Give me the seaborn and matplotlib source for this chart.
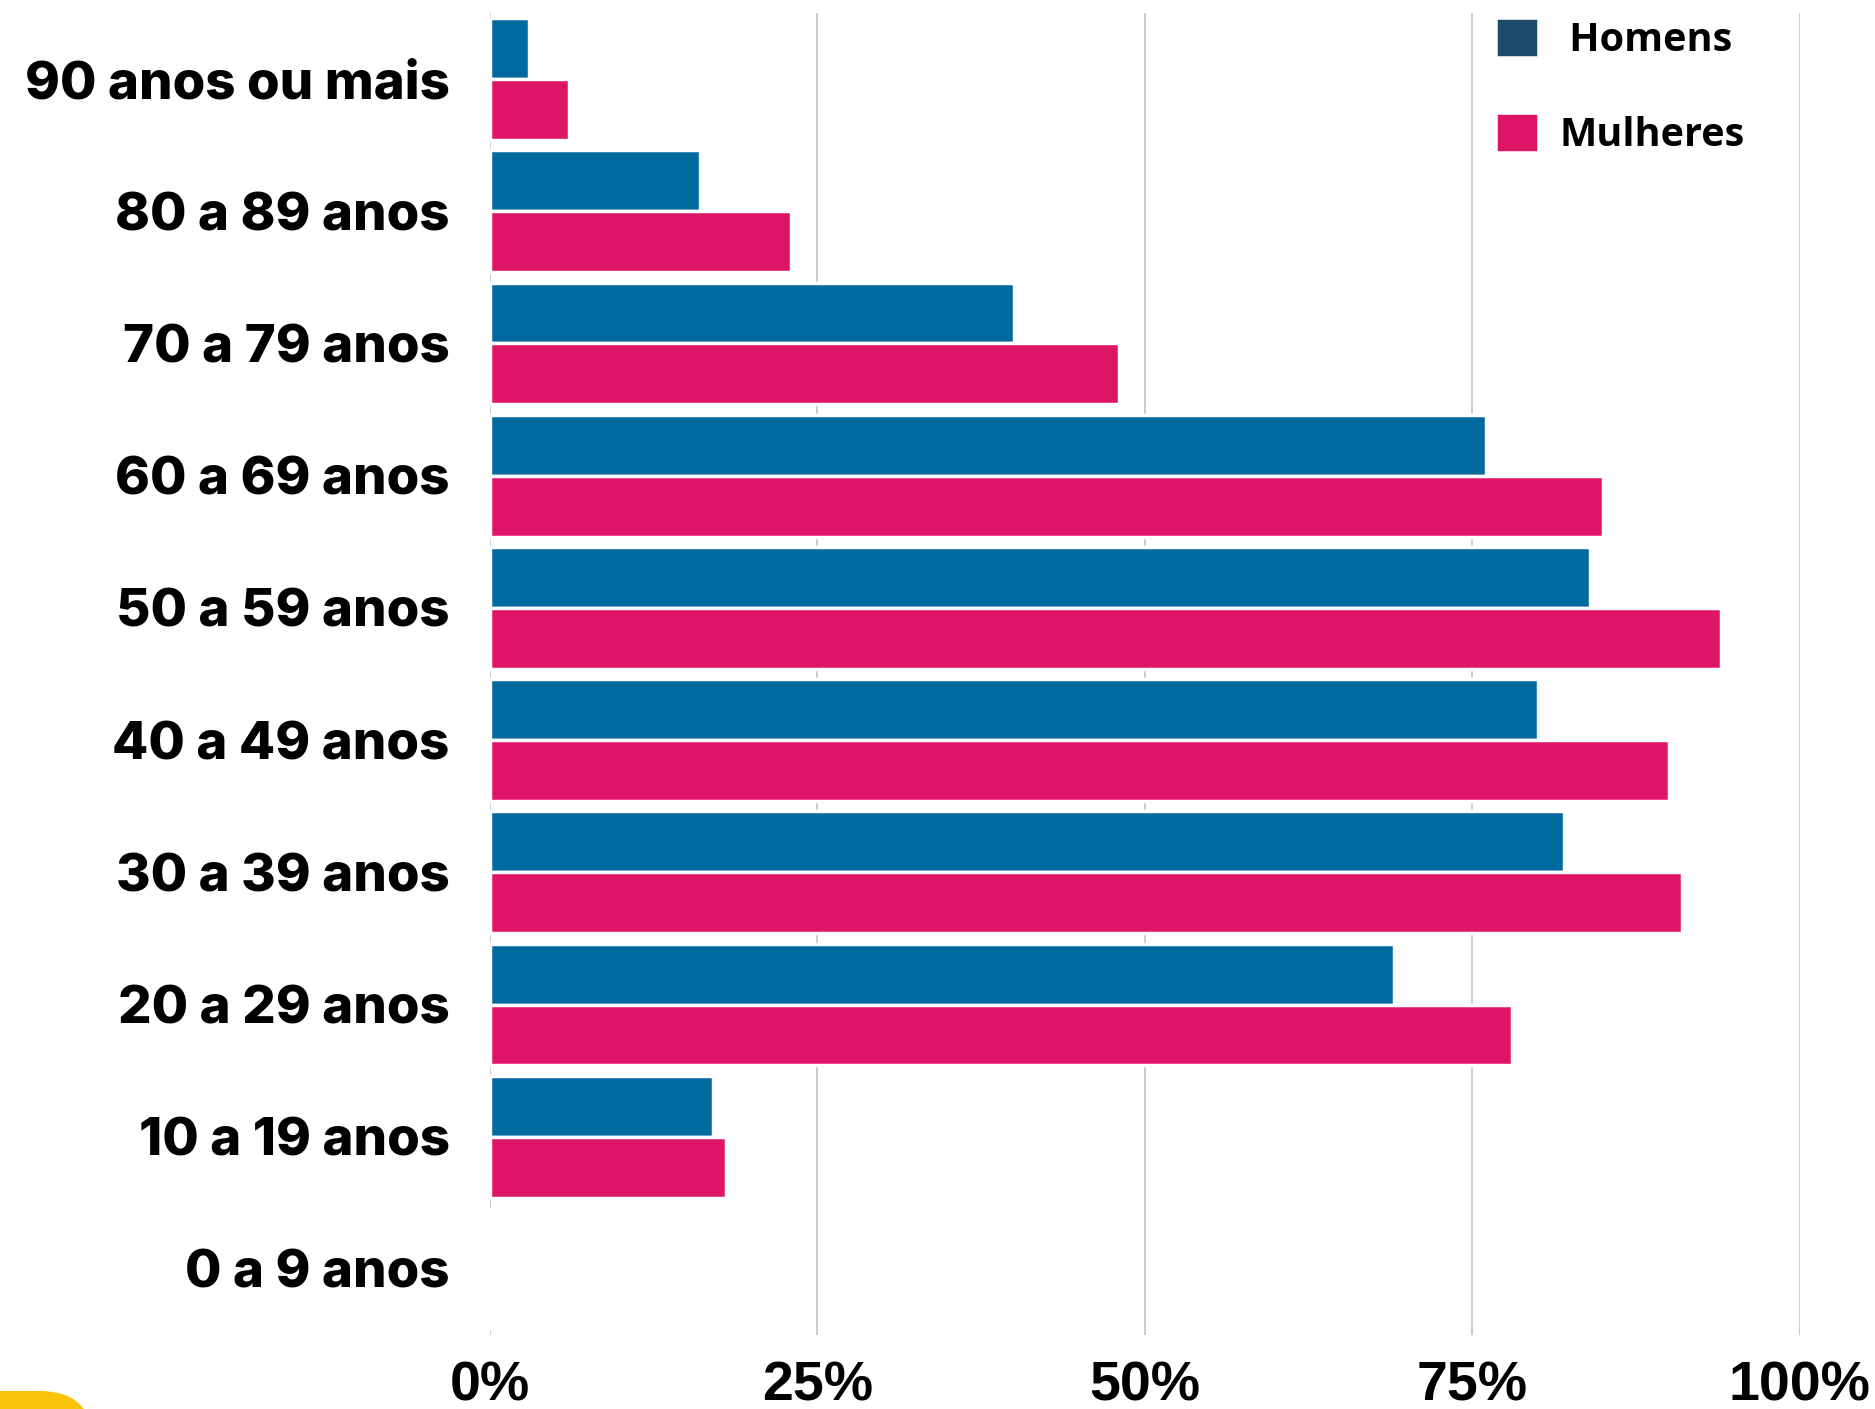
import pandas as pd
import matplotlib
matplotlib.use("Agg")
import matplotlib.pyplot as plt
from matplotlib.patches import FancyBboxPatch
from matplotlib.ticker import PercentFormatter
import seaborn as sns


# DATA

faixas = ["90 anos ou mais", "80 a 89 anos", "70 a 79 anos", "60 a 69 anos",
          "50 a 59 anos", "40 a 49 anos", "30 a 39 anos", "20 a 29 anos",
          "10 a 19 anos", "0 a 9 anos"]
homens = [3, 16, 40, 76, 84, 80, 82, 69, 17, 0]
mulheres = [6, 23, 48, 85, 94, 90, 91, 78, 18, 0]
grupos = ["Homens", "Mulheres"]
xticks = [0, 25, 50, 75, 100]

df = pd.DataFrame({
    "faixa": faixas * 2,
    "sexo": ["Homens"] * len(faixas) + ["Mulheres"] * len(faixas),
    "pct": homens + mulheres,
})


# PLOT

sns.set_style("white")
plt.rcParams["text.color"] = "black"
plt.rcParams["xtick.color"] = "black"
plt.rcParams["ytick.color"] = "black"

fig = plt.figure(figsize=(18.75, 14.09), dpi=100)
ax = fig.add_axes([0.2613, 0.0525, 0.6987, 0.9383])

sns.barplot(
    data=df, x="pct", y="faixa", hue="sexo",
    order=faixas, hue_order=grupos,
    palette={"Homens": "#00699e", "Mulheres": "#de1466"},
    saturation=1,
    orient="h", width=0.92, edgecolor="white", linewidth=2.5,
    ax=ax, zorder=3,
)

ax.set_xlim(0, 100)
ax.set_ylim(9.5, -0.5)
ax.set_xticks(xticks)
ax.xaxis.set_major_formatter(PercentFormatter(decimals=0))
ax.grid(axis="x", color="#cccccc", linewidth=1.4, zorder=0)
ax.grid(axis="y", visible=False)
for s in ax.spines.values():
    s.set_visible(False)
ax.set_xlabel("")
ax.set_ylabel("")
ax.tick_params(axis="both", length=0, colors="black")
ax.tick_params(axis="x", pad=18)
ax.tick_params(axis="y", pad=29)

for t in ax.get_yticklabels():
    t.set_fontfamily("Inter")
    t.set_fontweight("heavy")
    t.set_fontsize(38)
    t.set_color("black")
for t in ax.get_xticklabels():
    t.set_fontfamily("Liberation Sans")
    t.set_fontweight("bold")
    t.set_fontsize(40)
    t.set_color("black")

handles, labels = ax.get_legend_handles_labels()
# Homens is centred in the original, so nudge it with a leading space
labels = [" " + labels[0], labels[1]]
leg = ax.legend(
    handles, labels,
    loc="upper left", bbox_to_anchor=(0.743, 1.021),
    frameon=False, handlelength=0.9, handleheight=0.9,
    handletextpad=0.62, labelspacing=1.42,
    prop={"family": "Open Sans", "weight": "bold", "size": 28.5},
)
for t in leg.get_texts():
    t.set_color("black")
leg.legend_handles[0].set_facecolor("#1b4a6b")
leg.legend_handles[0].set_edgecolor("#1b4a6b")
leg.legend_handles[1].set_edgecolor("#de1466")

# yellow corner mark
fig.patches.append(FancyBboxPatch(
    (-200, -200), 293, 218,
    boxstyle="round,pad=0,rounding_size=53",
    facecolor="#fcc30b", edgecolor="none", transform=None,
))

plt.savefig("out.png", dpi=100)
plt.close()
